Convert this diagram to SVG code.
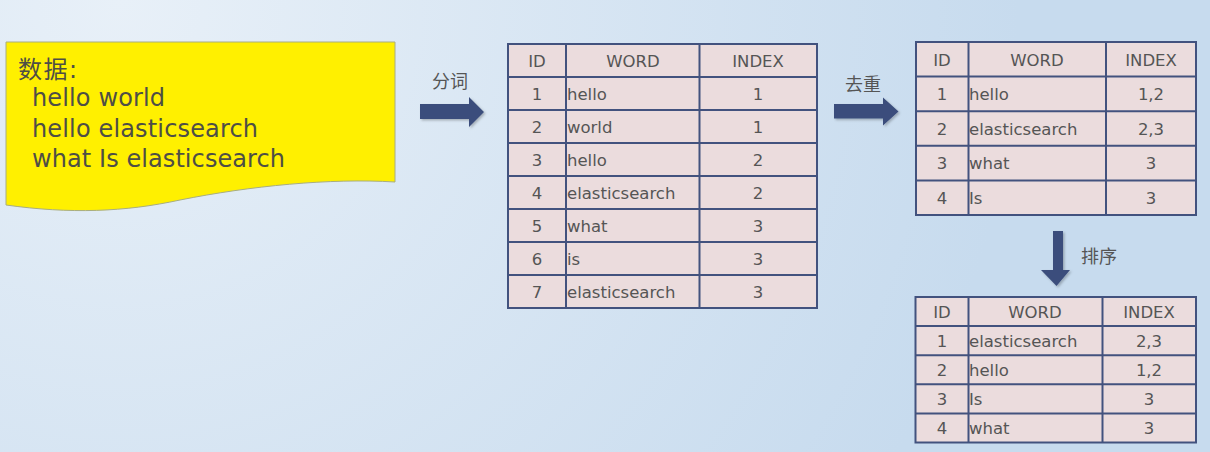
<svg xmlns="http://www.w3.org/2000/svg" width="1210" height="452" viewBox="0 0 1210 452">
<defs>
<radialGradient id="bg" gradientUnits="userSpaceOnUse" cx="120" cy="0" r="900">
<stop offset="0" stop-color="#e8f0f8"/>
<stop offset="1" stop-color="#c7dbee"/>
</radialGradient>
<filter id="sh" x="-20%" y="-20%" width="140%" height="140%">
<feDropShadow dx="1.5" dy="1.5" stdDeviation="1.2" flood-color="#000" flood-opacity="0.25"/>
</filter>
</defs>
<style>
.cell{fill:#ebdcdd;stroke:#42527e;stroke-width:2}
.ln{stroke:#42527e;stroke-width:2}
.t{font-family:"DejaVu Sans","Liberation Sans",sans-serif;font-size:16.5px;fill:#555}
.c{text-anchor:middle}
.big{font-family:"DejaVu Sans","Liberation Sans","Noto Sans CJK SC",sans-serif;font-size:24px;fill:#4e4e46}
.lab{font-family:"Noto Sans CJK SC","DejaVu Sans",sans-serif;font-size:18px;fill:#555}
.arr{fill:#3b4e7b}
</style>
<rect width="1210" height="452" fill="url(#bg)"/>

<g id="data">
<path d="M6,42 H395 V182 C330,178 250,186 180,200 C125,212 70,214 6,205 Z" fill="#fff000" stroke="#a8ad80" stroke-width="1"/>
<text class="big" x="18" y="78" textLength="59">数据:</text>
<text class="big" x="32" y="106" textLength="133">hello world</text>
<text class="big" x="32" y="137" textLength="226">hello elasticsearch</text>
<text class="big" x="32" y="167" textLength="253">what Is elasticsearch</text>
</g>

<g id="connectors">
<g id="arrow1" filter="url(#sh)">
<path class="arr" d="M420,104 H469 V97 L484,112 L469,127 V119 H420 Z"/>
</g>
<text class="lab" x="432" y="88">分词</text>
<g id="arrow2" filter="url(#sh)">
<path class="arr" d="M834,104 H883 V97.5 L898.5,111.5 L883,125.5 V118.5 H834 Z"/>
</g>
<text class="lab" x="845" y="91">去重</text>
<g id="arrow3" filter="url(#sh)">
<path class="arr" d="M1053,231 H1063 V270 H1070 L1056.5,286 L1041,270 H1053 Z"/>
</g>
<text class="lab" x="1081" y="263">排序</text>
</g>

<g id="table1">
<rect class="cell" x="508" y="44" width="309" height="264"/>
<line class="ln" x1="566" y1="44" x2="566" y2="308"/>
<line class="ln" x1="699.5" y1="44" x2="699.5" y2="308"/>
<line class="ln" x1="508" y1="77" x2="817" y2="77"/>
<line class="ln" x1="508" y1="110" x2="817" y2="110"/>
<line class="ln" x1="508" y1="143" x2="817" y2="143"/>
<line class="ln" x1="508" y1="176" x2="817" y2="176"/>
<line class="ln" x1="508" y1="209" x2="817" y2="209"/>
<line class="ln" x1="508" y1="242" x2="817" y2="242"/>
<line class="ln" x1="508" y1="275" x2="817" y2="275"/>
<text class="t c" x="537" y="67">ID</text>
<text class="t c" x="633" y="67">WORD</text>
<text class="t c" x="758" y="67">INDEX</text>
<text class="t c" x="537" y="100">1</text><text class="t" x="567" y="100">hello</text><text class="t c" x="758" y="100">1</text>
<text class="t c" x="537" y="133">2</text><text class="t" x="567" y="133">world</text><text class="t c" x="758" y="133">1</text>
<text class="t c" x="537" y="166">3</text><text class="t" x="567" y="166">hello</text><text class="t c" x="758" y="166">2</text>
<text class="t c" x="537" y="199">4</text><text class="t" x="567" y="199">elasticsearch</text><text class="t c" x="758" y="199">2</text>
<text class="t c" x="537" y="232">5</text><text class="t" x="567" y="232">what</text><text class="t c" x="758" y="232">3</text>
<text class="t c" x="537" y="265">6</text><text class="t" x="567" y="265">is</text><text class="t c" x="758" y="265">3</text>
<text class="t c" x="537" y="298">7</text><text class="t" x="567" y="298">elasticsearch</text><text class="t c" x="758" y="298">3</text>
</g>

<g id="table2">
<rect class="cell" x="916" y="42" width="280" height="173"/>
<line class="ln" x1="968.5" y1="42" x2="968.5" y2="215"/>
<line class="ln" x1="1106" y1="42" x2="1106" y2="215"/>
<line class="ln" x1="916" y1="76.6" x2="1196" y2="76.6"/>
<line class="ln" x1="916" y1="111.2" x2="1196" y2="111.2"/>
<line class="ln" x1="916" y1="145.8" x2="1196" y2="145.8"/>
<line class="ln" x1="916" y1="180.4" x2="1196" y2="180.4"/>
<text class="t c" x="942" y="65.5">ID</text>
<text class="t c" x="1037" y="65.5">WORD</text>
<text class="t c" x="1151" y="65.5">INDEX</text>
<text class="t c" x="942" y="100">1</text><text class="t" x="969" y="100">hello</text><text class="t c" x="1151" y="100">1,2</text>
<text class="t c" x="942" y="134.7">2</text><text class="t" x="969" y="134.7">elasticsearch</text><text class="t c" x="1151" y="134.7">2,3</text>
<text class="t c" x="942" y="169.3">3</text><text class="t" x="969" y="169.3">what</text><text class="t c" x="1151" y="169.3">3</text>
<text class="t c" x="942" y="204">4</text><text class="t" x="969" y="204">Is</text><text class="t c" x="1151" y="204">3</text>
</g>

<g id="table3">
<rect class="cell" x="915.5" y="297" width="280.5" height="145.5"/>
<line class="ln" x1="968.5" y1="297" x2="968.5" y2="442.5"/>
<line class="ln" x1="1102.5" y1="297" x2="1102.5" y2="442.5"/>
<line class="ln" x1="915.5" y1="326.1" x2="1196" y2="326.1"/>
<line class="ln" x1="915.5" y1="355.2" x2="1196" y2="355.2"/>
<line class="ln" x1="915.5" y1="384.3" x2="1196" y2="384.3"/>
<line class="ln" x1="915.5" y1="413.4" x2="1196" y2="413.4"/>
<text class="t c" x="942" y="317.5">ID</text>
<text class="t c" x="1035" y="317.5">WORD</text>
<text class="t c" x="1149" y="317.5">INDEX</text>
<text class="t c" x="942" y="346.6">1</text><text class="t" x="969" y="346.6">elasticsearch</text><text class="t c" x="1149" y="346.6">2,3</text>
<text class="t c" x="942" y="375.7">2</text><text class="t" x="969" y="375.7">hello</text><text class="t c" x="1149" y="375.7">1,2</text>
<text class="t c" x="942" y="404.8">3</text><text class="t" x="969" y="404.8">Is</text><text class="t c" x="1149" y="404.8">3</text>
<text class="t c" x="942" y="433.9">4</text><text class="t" x="969" y="433.9">what</text><text class="t c" x="1149" y="433.9">3</text>
</g>
</svg>
